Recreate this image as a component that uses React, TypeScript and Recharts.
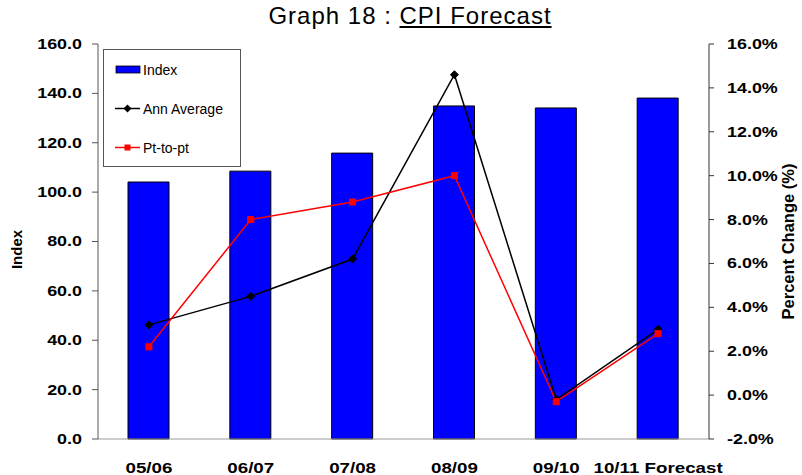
import React from 'react';
import { ComposedChart, Bar, Line, XAxis, YAxis, Legend } from 'recharts';

const categories = ['05/06', '06/07', '07/08', '08/09', '09/10', '10/11 Forecast'];
const indexValues = [104.1, 108.5, 115.8, 134.9, 134.1, 138.1];
const annAverage = [3.2, 4.5, 6.2, 14.6, -0.2, 3.0];
const ptToPt = [2.2, 8.0, 8.8, 10.0, -0.3, 2.8];
const leftTicks = [0, 20, 40, 60, 80, 100, 120, 140, 160];
const rightTicks = [-2, 0, 2, 4, 6, 8, 10, 12, 14, 16];
const boundaryTicks = [0, 1, 2, 3, 4, 5, 6];
const seriesNames = ['Index', 'Ann Average', 'Pt-to-pt'];

const data = categories.map((c, i) => ({
  cat: c,
  index: indexValues[i],
  ann: annAverage[i],
  pt: ptToPt[i],
}));

const FONT = '"Liberation Sans", Arial, sans-serif';

const StretchTick = (props: any) => {
  const { x, y, payload, anchor, fontSize, sx, fmt, dy } = props;
  return (
    <g transform={`translate(${x},${y}) scale(${sx},1)`}>
      <text x={0} y={0} dy={dy} textAnchor={anchor} fontFamily={FONT} fontWeight="bold" fontSize={fontSize} fill="#000">
        {fmt(payload.value)}
      </text>
    </g>
  );
};

const Diamond = (props: any) => {
  const { cx, cy } = props;
  if (cx == null || cy == null) return null;
  const r = 4;
  return <path d={`M${cx},${cy - r}L${cx + r},${cy}L${cx},${cy + r}L${cx - r},${cy}Z`} fill="#000" stroke="#000" />;
};

const Square = (props: any) => {
  const { cx, cy } = props;
  if (cx == null || cy == null) return null;
  return <rect x={cx - 3} y={cy - 3} width={6} height={6} fill="#FF0000" stroke="#FF0000" />;
};

const LegendBox = () => (
  <div
    style={{
      position: 'absolute',
      left: 103,
      top: 49,
      width: 136,
      height: 116,
      border: '1px solid #555',
      background: '#fff',
      fontFamily: FONT,
      fontSize: 14,
      color: '#000',
    }}
  >
    {seriesNames.map((name, i) => (
      <div key={name} style={{ position: 'absolute', left: 11, top: 11 + i * 39, height: 17, display: 'flex', alignItems: 'center' }}>
        <svg width={26} height={17} style={{ display: 'block' }}>
          {i === 0 && <rect x={1} y={5} width={24} height={7} fill="#0000FF" stroke="#000" strokeWidth={0.8} />}
          {i === 1 && (
            <g>
              <line x1={0} y1={8.5} x2={25} y2={8.5} stroke="#000" strokeWidth={1.5} />
              <path d="M12.5,4.5L16.5,8.5L12.5,12.5L8.5,8.5Z" fill="#000" />
            </g>
          )}
          {i === 2 && (
            <g>
              <line x1={0} y1={8.5} x2={25} y2={8.5} stroke="#FF0000" strokeWidth={1.5} />
              <rect x={9.5} y={5.5} width={6} height={6} fill="#FF0000" />
            </g>
          )}
        </svg>
        <span style={{ marginLeft: 2, whiteSpace: 'nowrap' }}>{name}</span>
      </div>
    ))}
  </div>
);

export default function App() {
  return (
    <div style={{ position: 'absolute', left: 0, top: 0, width: 802, height: 475, background: '#fff' }}>
      <div
        style={{
          position: 'absolute',
          left: 0,
          width: 820,
          top: 2,
          textAlign: 'center',
          fontFamily: FONT,
          fontSize: 24,
          letterSpacing: 1,
          color: '#000',
          whiteSpace: 'nowrap',
        }}
      >
        Graph 18 : <span style={{ textDecoration: 'underline' }}>CPI Forecast</span>
      </div>
      <ComposedChart
        width={802}
        height={475}
        data={data}
        margin={{ top: 44, right: 0, bottom: 0, left: 0 }}
        style={{ position: 'absolute', left: 0, top: 0 }}
      >
        <XAxis
          xAxisId="b"
          type="number"
          domain={[0, 6]}
          ticks={boundaryTicks}
          allowDataOverflow
          tick={false}
          tickSize={7}
          height={1}
          axisLine={{ stroke: '#999' }}
          tickLine={{ stroke: '#333' }}
        />
        <XAxis
          xAxisId="cat"
          dataKey="cat"
          height={35}
          axisLine={false}
          tickLine={false}
          tickSize={0}
          tickMargin={22}
          interval={0}
          tick={<StretchTick anchor="middle" fontSize={15} sx={1.25} dy="0.71em" fmt={(v: any) => v} />}
        />
        <YAxis
          yAxisId="left"
          orientation="left"
          width={98}
          domain={[0, 160]}
          ticks={leftTicks}
          interval={0}
          tickSize={6}
          tickMargin={10}
          axisLine={{ stroke: '#555' }}
          tickLine={{ stroke: '#555' }}
          tick={<StretchTick anchor="end" fontSize={14} sx={1.28} dy="0.355em" fmt={(v: number) => v.toFixed(1)} />}
          label={{ value: 'Index', angle: -90, position: 'insideLeft', offset: 17, dy: 8, style: { fontFamily: FONT, fontWeight: 'bold', fontSize: 15, fill: '#000', textAnchor: 'middle' } }}
        />
        <YAxis
          yAxisId="right"
          orientation="right"
          width={93}
          domain={[-2, 16]}
          ticks={rightTicks}
          interval={0}
          tickSize={5}
          tickMargin={13}
          axisLine={{ stroke: '#333' }}
          tickLine={{ stroke: '#333' }}
          tick={<StretchTick anchor="start" fontSize={14} sx={1.28} dy="0.355em" fmt={(v: number) => v.toFixed(1) + '%'} />}
          label={{ value: 'Percent Change (%)', angle: -90, position: 'insideRight', offset: 14, style: { fontFamily: FONT, fontWeight: 'bold', fontSize: 16.5, fill: '#000', textAnchor: 'middle' } }}
        />
        <Legend content={() => <LegendBox />} wrapperStyle={{ position: 'absolute', left: 0, top: 0, width: 0, height: 0 }} />
        <Bar
          xAxisId="cat"
          yAxisId="left"
          dataKey="index"
          name="Index"
          fill="#0000FF"
          stroke="#000"
          strokeWidth={1}
          barSize={41}
          isAnimationActive={false}
        />
        <Line
          xAxisId="cat"
          yAxisId="right"
          dataKey="ann"
          name="Ann Average"
          stroke="#000"
          strokeWidth={1.5}
          dot={<Diamond />}
          activeDot={false}
          isAnimationActive={false}
        />
        <Line
          xAxisId="cat"
          yAxisId="right"
          dataKey="pt"
          name="Pt-to-pt"
          stroke="#FF0000"
          strokeWidth={1.5}
          dot={<Square />}
          activeDot={false}
          isAnimationActive={false}
        />
      </ComposedChart>
    </div>
  );
}
